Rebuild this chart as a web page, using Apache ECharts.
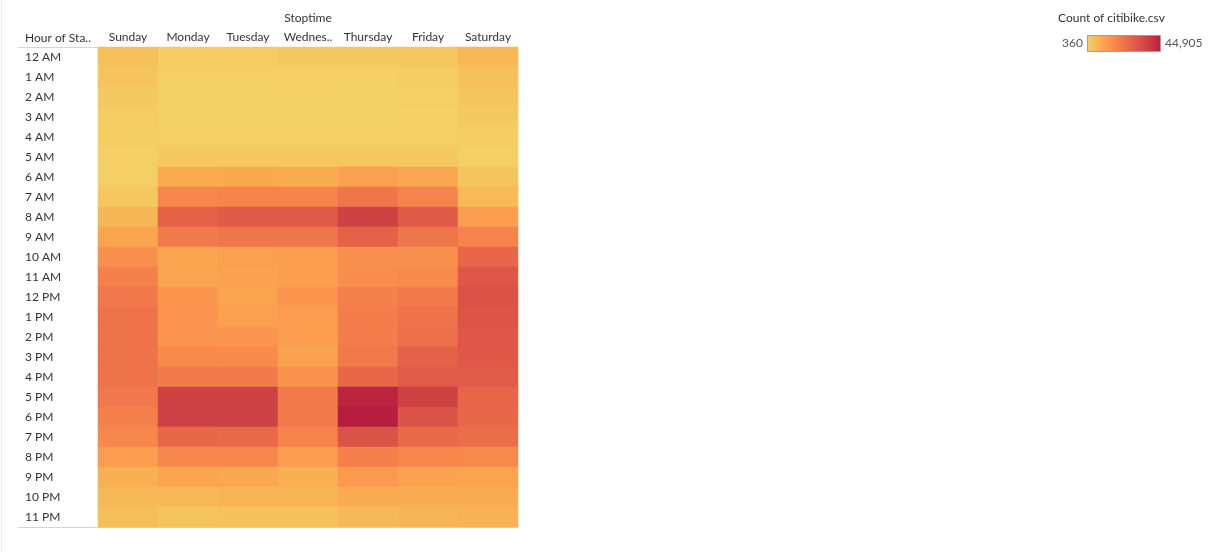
<!DOCTYPE html>
<html><head><meta charset="utf-8">
<script src="https://cdn.jsdelivr.net/npm/echarts@6/dist/echarts.min.js"></script>
<style>html,body{margin:0;padding:0;background:#fff}#c{width:1227px;height:552px}</style>
</head><body><div id="c"></div>
<script>
const days = ['Sunday','Monday','Tuesday','Wednesday','Thursday','Friday','Saturday'];
const hours = ['12 AM','1 AM','2 AM','3 AM','4 AM','5 AM','6 AM','7 AM','8 AM','9 AM','10 AM','11 AM',
  '12 PM','1 PM','2 PM','3 PM','4 PM','5 PM','6 PM','7 PM','8 PM','9 PM','10 PM','11 PM'];
const sunday    = [4370,3480,2140,1250,1250,805,805,2590,6600,10600,15060,19070,21300,22630,22630,22630,22630,21300,19070,17290,12390,7930,6150,4815];
const monday    = [1700,805,360,420,805,2590,8820,17290,27090,20400,10160,10600,13720,14170,14170,16400,20400,36000,36200,25750,17290,10160,6150,3480];
const tuesday   = [1700,805,450,400,805,2590,9270,17730,29310,22190,11500,11050,10600,11500,13720,16400,20400,36100,36300,24860,17290,9710,7040,3920];
const wednesday = [2140,805,500,450,805,2590,8820,17730,29310,22190,11940,11940,13720,12390,12390,11050,14610,20850,20850,18180,12390,7930,7040,3920];
const thursday  = [2140,805,470,420,805,2590,11500,22190,36000,27090,15060,15950,19070,19510,19960,20850,25750,43120,44905,31540,19070,12830,8820,6150];
const friday    = [2590,1250,805,500,805,2590,9710,18180,29310,22190,15060,16400,20850,22630,23520,27090,28870,36000,31100,25300,17290,11050,8820,6600];
const saturday  = [6150,4370,3030,2140,1250,805,3030,5700,11940,18180,25750,30210,31540,30650,30210,29760,28870,26200,25750,23970,16840,10600,8820,7490];
const series = [sunday,monday,tuesday,wednesday,thursday,friday,saturday];
const minVal = 360, maxVal = 44905;
const legendLabels = ['360','44,905'];
const palette = ['#f4d166','#f6be59','#f9aa51','#fc964e','#f6834b','#ee734a','#e56249','#db5247','#cf4244','#c43141','#b71d3e'];

const data = [];
series.forEach((arr, d) => arr.forEach((v, h) => data.push([d, h, v])));

const font = 'Lato, "Open Sans", sans-serif';
const chart = echarts.init(document.getElementById('c'), null, {renderer:'canvas'});
chart.setOption({
  animation:false,
  textStyle:{fontFamily:font},
  grid:{left:98, top:47, width:420, height:480},
  xAxis:{type:'category', data:days, position:'top',
    axisLine:{show:false}, axisTick:{show:false}, splitLine:{show:false},
    axisLabel:{color:'#333', fontSize:12, margin:4, width:52, overflow:'truncate', ellipsis:'..', interval:0}},
  yAxis:{type:'category', data:hours, inverse:true,
    axisLine:{show:false}, axisTick:{show:false}, splitLine:{show:false},
    axisLabel:{color:'#333', fontSize:12, align:'left', margin:73, interval:0}},
  visualMap:{type:'continuous', min:minVal, max:maxVal, show:false, inRange:{color:palette}},
  graphic:[
    {type:'text', left:1058, top:12, style:{text:'Count of citibike.csv', fill:'#333', font:'12px '+font}},
    {type:'rect', shape:{x:1087.5, y:35.5, width:73, height:16},
      style:{fill:new echarts.graphic.LinearGradient(0,0,1,0, palette.map((c,i)=>({offset:i/(palette.length-1), color:c}))),
        stroke:'#a0a0a0', lineWidth:1}},
    {type:'text', x:1083, y:43.5, style:{text:legendLabels[0], fill:'#555', font:'12px '+font, align:'right', verticalAlign:'middle'}},
    {type:'text', x:1165, y:43.5, style:{text:legendLabels[1], fill:'#555', font:'12px '+font, align:'left', verticalAlign:'middle'}},
    {type:'text', x:25, y:38, style:{text:'Hour of Sta..', fill:'#333', font:'12px '+font, verticalAlign:'middle'}},
    {type:'text', x:308, y:18, style:{text:'Stoptime', fill:'#333', font:'12px '+font, align:'center', verticalAlign:'middle'}},
    {type:'line', shape:{x1:18, y1:47.5, x2:518, y2:47.5}, style:{stroke:'#d4d4d4', lineWidth:1}},
    {type:'line', shape:{x1:18, y1:527.5, x2:518, y2:527.5}, style:{stroke:'#d4d4d4', lineWidth:1}},
    {type:'line', shape:{x1:1.5, y1:0, x2:1.5, y2:552}, style:{stroke:'#eeeeee', lineWidth:1}}
  ],
  series:[{type:'heatmap', data:data, itemStyle:{borderWidth:0}, emphasis:{disabled:true}}]
});
</script></body></html>
